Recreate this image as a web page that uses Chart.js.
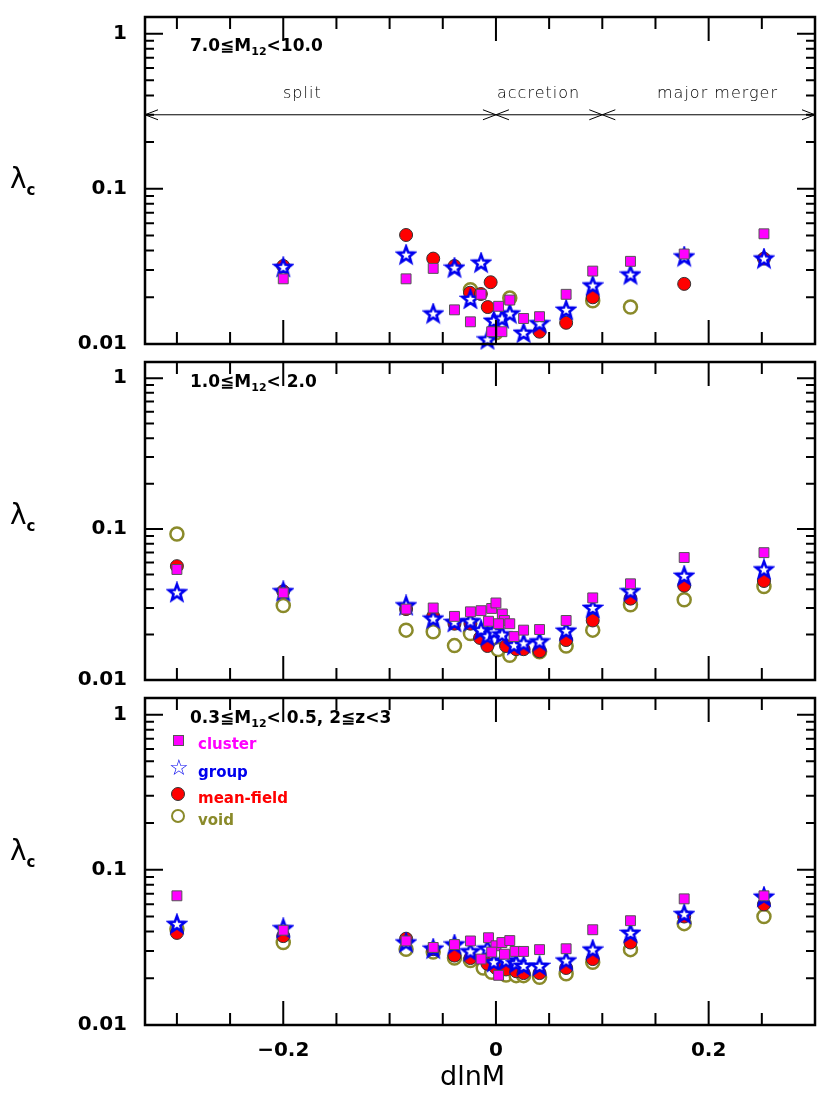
<!DOCTYPE html>
<html><head><meta charset="utf-8">
<script src="https://cdn.jsdelivr.net/npm/chart.js@4"></script>
<style>
body{margin:0;background:#fff;width:830px;height:1114px;position:relative;overflow:hidden;font-family:"DejaVu Sans",sans-serif}
canvas{position:absolute;left:0}
.t{position:absolute;white-space:nowrap;color:#000}
.plab{font-weight:bold;font-size:17px}
.plab sub{font-size:11px}
.arr{font-size:16px;letter-spacing:1px;font-family:"DejaVu Sans";font-weight:200}
.ylab{font-size:28px;left:10px}
.ylab sub{font-size:15px;font-weight:bold}
.leg{font-weight:bold;font-size:15px;left:198px}
.mk{position:absolute;box-sizing:border-box}
</style></head><body>
<canvas id="c1" width="830" height="353" style="top:0"></canvas>
<canvas id="c2" width="830" height="336" style="top:353px"></canvas>
<canvas id="c3" width="830" height="425" style="top:689px"></canvas>

<div class="t plab" style="left:190px;top:35px">7.0≦M<sub>12</sub>&lt;10.0</div>
<div class="t plab" style="left:190px;top:371px">1.0≦M<sub>12</sub>&lt; 2.0</div>
<div class="t plab" style="left:190px;top:707px">0.3≦M<sub>12</sub>&lt; 0.5, 2≦z&lt;3</div>
<div class="t arr" style="left:283px;top:83px">split</div>
<div class="t arr" style="left:497px;top:83px">accretion</div>
<div class="t arr" style="left:657px;top:83px">major merger</div>
<div class="t ylab" style="top:162px">λ<sub>c</sub></div>
<div class="t ylab" style="top:498px">λ<sub>c</sub></div>
<div class="t ylab" style="top:834px">λ<sub>c</sub></div>
<div class="t" style="left:440px;top:1060px;font-size:27px">dlnM</div>
<div class="mk" style="left:173px;top:735px;width:11px;height:11px;background:#ff00ff;border:1px solid #555"></div>
<div class="t" style="left:169px;top:755px;font-size:22px;font-weight:bold;color:#0000ee">☆</div>
<div class="mk" style="left:171px;top:787px;width:14px;height:14px;border-radius:50%;background:#f00;border:1px solid #333"></div>
<div class="mk" style="left:171px;top:809px;width:14px;height:14px;border-radius:50%;background:#fff;border:2.5px solid #8a8a2a"></div>
<div class="t leg" style="top:735px;color:#ff00ff">cluster</div>
<div class="t leg" style="top:763px;color:#0000ee">group</div>
<div class="t leg" style="top:789px;color:#ff0000">mean-field</div>
<div class="t leg" style="top:811px;color:#8a8a2a">void</div>

<script>
// panel 1: 7.0 <= M12 < 10.0
const p1Cluster = [[-0.2,0.0263],[-0.0845,0.0263],[-0.059,0.0307],[-0.039,0.0166],[-0.024,0.0139],[-0.014,0.0209],[0.0025,0.0175],[0.013,0.0192],[-0.004,0.012],[0.0056,0.012],[0.026,0.0146],[0.041,0.015],[0.066,0.0209],[0.091,0.0295],[0.1265,0.0341],[0.177,0.038],[0.252,0.0513]];
const p1Group = [[-0.2,0.0313],[-0.0845,0.0376],[-0.059,0.0157],[-0.039,0.031],[-0.014,0.0334],[-0.024,0.0195],[-0.008,0.0107],[-0.002,0.0141],[0.0058,0.0146],[0.013,0.0157],[0.026,0.0118],[0.041,0.0136],[0.066,0.0166],[0.091,0.0238],[0.1265,0.028],[0.177,0.0366],[0.252,0.0355]];
const p1Mean = [[-0.2,0.0318],[-0.0845,0.0504],[-0.059,0.0355],[-0.039,0.0318],[-0.0244,0.0214],[-0.0142,0.021],[-0.005,0.025],[-0.0077,0.0173],[0.041,0.012],[0.066,0.0137],[0.091,0.02],[0.177,0.0244],[0.252,0.0355]];
const p1Void = [[-0.024,0.0224],[0.013,0.0198],[0.091,0.019],[0.1265,0.0173],[0.0,0.0118]];
// panel 2: 1.0 <= M12 < 2.0
const p2Cluster = [[-0.3,0.054],[-0.2,0.0378],[-0.0845,0.0295],[-0.059,0.03],[-0.039,0.0264],[-0.024,0.0283],[-0.014,0.0288],[-0.004,0.0298],[0.0,0.0324],[-0.007,0.0245],[0.006,0.0274],[0.008,0.0248],[0.013,0.0236],[0.0025,0.0236],[0.017,0.0194],[0.026,0.0214],[0.041,0.0216],[0.066,0.0248],[0.091,0.035],[0.1265,0.0434],[0.177,0.0648],[0.252,0.0698]];
const p2Group = [[-0.3,0.0381],[-0.2,0.0387],[-0.0845,0.0312],[-0.059,0.0255],[-0.039,0.0242],[-0.024,0.0245],[-0.014,0.0214],[-0.008,0.0195],[-0.002,0.021],[0.0058,0.02],[0.017,0.017],[0.026,0.0175],[0.041,0.018],[0.066,0.0212],[0.091,0.03],[0.1265,0.0387],[0.177,0.049],[0.252,0.054]];
const p2Mean = [[-0.3,0.0568],[-0.2,0.0387],[-0.0845,0.0295],[-0.059,0.0264],[-0.039,0.0236],[-0.024,0.0236],[-0.015,0.019],[-0.008,0.0168],[0.0095,0.0168],[0.019,0.016],[0.026,0.016],[0.041,0.0155],[0.066,0.0184],[0.091,0.0248],[0.1265,0.0346],[0.177,0.0422],[0.252,0.0453]];
const p2Void = [[-0.3,0.0927],[-0.2,0.0312],[-0.0845,0.0214],[-0.059,0.0209],[-0.039,0.0169],[-0.024,0.0203],[0.002,0.0159],[0.013,0.0146],[0.041,0.0154],[0.066,0.0168],[0.091,0.0214],[0.1265,0.0315],[0.177,0.034],[0.252,0.0416]];
// panel 3: 0.3 <= M12 < 0.5, 2 <= z < 3
const p3Cluster = [[-0.3,0.068],[-0.2,0.0408],[-0.0845,0.0348],[-0.059,0.0316],[-0.039,0.033],[-0.024,0.0348],[-0.007,0.0365],[0.0,0.0324],[0.0056,0.034],[0.013,0.035],[-0.004,0.0295],[0.008,0.0286],[0.018,0.0298],[0.026,0.0298],[-0.014,0.0266],[0.0025,0.0209],[0.041,0.0306],[0.066,0.031],[0.091,0.0411],[0.1265,0.047],[0.177,0.065],[0.252,0.068]];
const p3Group = [[-0.3,0.0447],[-0.2,0.042],[-0.0845,0.034],[-0.059,0.031],[-0.039,0.033],[-0.024,0.0298],[-0.008,0.031],[-0.002,0.0254],[0.0095,0.026],[0.019,0.025],[0.026,0.024],[0.041,0.024],[0.066,0.026],[0.091,0.0306],[0.1265,0.0392],[0.177,0.0518],[0.252,0.067]];
const p3Mean = [[-0.3,0.0392],[-0.2,0.0374],[-0.0845,0.036],[-0.059,0.0308],[-0.039,0.028],[-0.024,0.027],[-0.008,0.0248],[0.0,0.0233],[0.0095,0.0228],[0.019,0.0222],[0.026,0.0216],[0.041,0.0216],[0.066,0.0233],[0.091,0.0266],[0.1265,0.034],[0.177,0.05],[0.252,0.0598]];
const p3Void = [[-0.3,0.0415],[-0.2,0.034],[-0.0845,0.0308],[-0.059,0.0295],[-0.039,0.027],[-0.024,0.026],[-0.012,0.0233],[-0.004,0.0219],[0.0095,0.021],[0.019,0.0208],[0.026,0.0208],[0.041,0.0203],[0.066,0.0214],[0.091,0.0254],[0.1265,0.0306],[0.177,0.045],[0.252,0.05]];

const xTickLabels = [-0.2, 0, 0.2];
const yTickLabels = [0.01, 0.1, 1];
const regions = [[-0.33, 0], [0, 0.1], [0.1, 0.3]];

function starImage() {
  const c = document.createElement('canvas');
  c.width = c.height = 22;
  const g = c.getContext('2d');
  g.beginPath();
  for (let i = 0; i < 10; i++) {
    const r = i % 2 ? 3.6 : 8.6, a = -Math.PI / 2 + i * Math.PI / 5;
    g.lineTo(11 + r * Math.cos(a), 11.5 + r * Math.sin(a));
  }
  g.closePath();
  g.fillStyle = '#fff'; g.fill();
  g.lineWidth = 2.6; g.strokeStyle = '#0000ee'; g.stroke();
  return c;
}
const star = starImage();
const pts = a => a.map(([x, y]) => ({ x, y }));

function datasets(cl, gr, mf, vo) {
  return [
    { data: pts(cl), pointStyle: 'rect', pointRadius: 7, backgroundColor: '#ff00ff', borderColor: '#555', borderWidth: 1, order: 0 },
    { data: pts(gr), pointStyle: star, order: 1 },
    { data: pts(mf), pointStyle: 'circle', pointRadius: 6.5, backgroundColor: '#ff0000', borderColor: '#333', borderWidth: 1, order: 2 },
    { data: pts(vo), pointStyle: 'circle', pointRadius: 6.5, backgroundColor: '#fff', borderColor: '#8a8a2a', borderWidth: 2.5, order: 3 },
  ].map(d => ({ ...d, showLine: false, clip: false }));
}

const framePlugin = {
  id: 'frame',
  afterDraw(chart, args, opts) {
    const { ctx, chartArea: a, scales: { x, y } } = chart;
    ctx.save();
    ctx.strokeStyle = '#000';
    ctx.lineWidth = 2;
    for (let d = 0.01; d <= 1.0001; d *= 10) {
      for (let k = 1; k <= 9; k++) {
        const v = d * k;
        if (v > 1.0001 && k > 1) break;
        const py = y.getPixelForValue(v), len = k === 1 ? 18 : 9;
        ctx.beginPath();
        ctx.moveTo(a.left, py); ctx.lineTo(a.left + len, py);
        ctx.moveTo(a.right, py); ctx.lineTo(a.right - len, py);
        ctx.stroke();
      }
    }
    for (let i = -6; i <= 6; i++) {
      const v = i * 0.05, px = x.getPixelForValue(v);
      if (px < a.left || px > a.right) continue;
      const len = i % 4 === 0 ? 24 : 12;
      ctx.beginPath();
      ctx.moveTo(px, a.bottom); ctx.lineTo(px, a.bottom - len);
      ctx.moveTo(px, a.top); ctx.lineTo(px, a.top + len);
      ctx.stroke();
    }
    if (opts.arrows) {
      ctx.lineWidth = 1;
      const py = y.getPixelForValue(0.3);
      regions.forEach(([x0, x1]) => {
        const p0 = Math.max(x.getPixelForValue(x0), a.left), p1 = Math.min(x.getPixelForValue(x1), a.right);
        ctx.beginPath();
        ctx.moveTo(p0, py); ctx.lineTo(p1, py);
        ctx.moveTo(p0 + 13, py - 5); ctx.lineTo(p0, py); ctx.lineTo(p0 + 13, py + 5);
        ctx.moveTo(p1 - 13, py - 5); ctx.lineTo(p1, py); ctx.lineTo(p1 - 13, py + 5);
        ctx.stroke();
      });
    }
    ctx.lineWidth = 2.5;
    ctx.strokeRect(a.left, a.top, a.right - a.left, a.bottom - a.top);
    ctx.restore();
  }
};

function makeChart(id, ds, opt) {
  return new Chart(document.getElementById(id), {
    type: 'scatter',
    data: { datasets: ds },
    plugins: [framePlugin],
    options: {
      responsive: false, animation: false, events: [],
      layout: { padding: { top: opt.top, right: 15, left: 0, bottom: 0 } },
      plugins: { legend: { display: false }, tooltip: { enabled: false }, frame: { arrows: opt.arrows } },
      scales: {
        x: {
          type: 'linear', min: -0.33, max: 0.30, display: opt.showX,
          grid: { display: false }, border: { display: false },
          afterBuildTicks: s => { s.ticks = xTickLabels.map(v => ({ value: v })); },
          afterFit: s => {
            if (opt.showX) s.height = 89;
            s.paddingLeft = 0; s.paddingRight = 0;
          },
          ticks: { color: '#000', font: { family: 'DejaVu Sans', size: 20, weight: 'bold' }, padding: 6, callback: v => v === 0 ? '0' : (v < 0 ? '\u22120.2' : '0.2') },
        },
        y: {
          type: 'logarithmic', min: 0.01, max: 1.28,
          grid: { display: false }, border: { display: false },
          afterBuildTicks: s => { s.ticks = yTickLabels.map(v => ({ value: v })); },
          afterFit: s => { s.width = 145; s.paddingTop = 0; s.paddingBottom = 0; },
          ticks: { color: '#000', font: { family: 'DejaVu Sans', size: 20, weight: 'bold' }, padding: 10, callback: v => String(v) },
        },
      },
    },
  });
}

makeChart('c1', datasets(p1Cluster, p1Group, p1Mean, p1Void), { top: 17, arrows: true, showX: false });
makeChart('c2', datasets(p2Cluster, p2Group, p2Mean, p2Void), { top: 0, arrows: false, showX: false });
makeChart('c3', datasets(p3Cluster, p3Group, p3Mean, p3Void), { top: 0, arrows: false, showX: true });
</script>
</body></html>
